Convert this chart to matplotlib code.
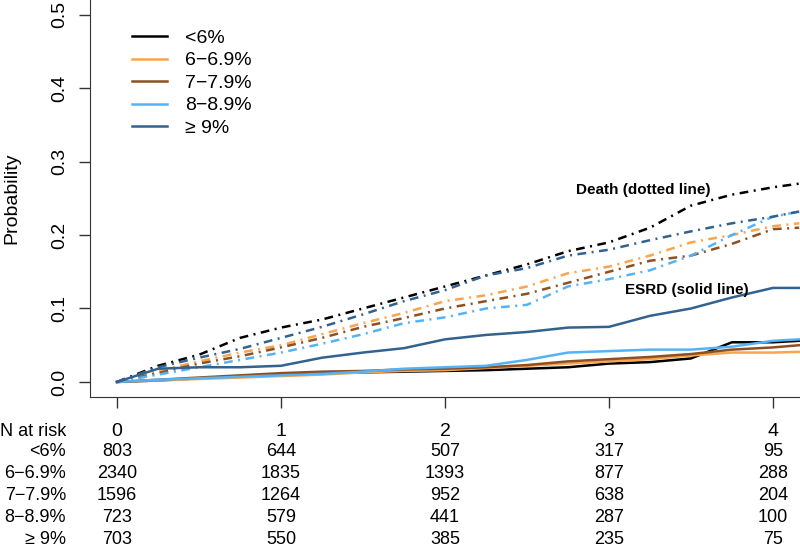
import matplotlib
matplotlib.use('Agg')
import matplotlib.pyplot as plt
from matplotlib.transforms import blended_transform_factory

plt.rcParams['font.family'] = ['Liberation Sans', 'DejaVu Sans']

# groups and colours
groups = ['<6%', '6\u22126.9%', '7\u22127.9%', '8\u22128.9%', '\u2265 9%']
colors = ['#000000', '#F9A54D', '#8E5020', '#54B3F7', '#33628E']

# time points (years) for the curves
t = [0, 0.25, 0.5, 0.75, 1.0, 1.25, 1.5, 1.75, 2.0, 2.25, 2.5, 2.75,
     3.0, 3.25, 3.5, 3.75, 4.0, 4.16]

# cumulative incidence of death (dash-dot)
death_lt6 = [0, 0.022, 0.037, 0.06, 0.074, 0.085, 0.1, 0.115, 0.13, 0.145,
             0.16, 0.178, 0.19, 0.21, 0.24, 0.255, 0.265, 0.27]
death_6 = [0, 0.015, 0.028, 0.04, 0.05, 0.065, 0.08, 0.094, 0.11, 0.118,
           0.13, 0.148, 0.157, 0.172, 0.19, 0.2, 0.212, 0.216]
death_7 = [0, 0.012, 0.025, 0.035, 0.047, 0.06, 0.075, 0.087, 0.1, 0.11,
           0.12, 0.135, 0.15, 0.165, 0.172, 0.188, 0.208, 0.21]
death_8 = [0, 0.01, 0.02, 0.03, 0.04, 0.052, 0.065, 0.08, 0.088, 0.1,
           0.105, 0.13, 0.14, 0.152, 0.172, 0.2, 0.225, 0.232]
death_9 = [0, 0.02, 0.033, 0.045, 0.06, 0.075, 0.092, 0.11, 0.125, 0.145,
           0.155, 0.172, 0.18, 0.193, 0.205, 0.216, 0.225, 0.232]

# cumulative incidence of ESRD (solid)
esrd_lt6 = [0, 0.002, 0.005, 0.008, 0.01, 0.012, 0.013, 0.014, 0.015, 0.016,
            0.018, 0.02, 0.025, 0.027, 0.032, 0.054, 0.054, 0.056]
esrd_6 = [0, 0.002, 0.004, 0.006, 0.008, 0.01, 0.013, 0.015, 0.016, 0.019,
          0.022, 0.025, 0.028, 0.031, 0.036, 0.04, 0.04, 0.041]
esrd_7 = [0, 0.003, 0.006, 0.009, 0.012, 0.014, 0.015, 0.017, 0.018, 0.02,
          0.023, 0.028, 0.031, 0.034, 0.038, 0.044, 0.047, 0.05]
esrd_8 = [0, 0.003, 0.005, 0.007, 0.009, 0.011, 0.014, 0.018, 0.02, 0.022,
          0.03, 0.04, 0.042, 0.044, 0.044, 0.048, 0.056, 0.058]
esrd_9 = [0, 0.018, 0.02, 0.02, 0.022, 0.033, 0.04, 0.046, 0.058, 0.064,
          0.068, 0.074, 0.075, 0.09, 0.1, 0.115, 0.128, 0.128]

death = [death_lt6, death_6, death_7, death_8, death_9]
esrd = [esrd_lt6, esrd_6, esrd_7, esrd_8, esrd_9]

# numbers at risk
risk_times = [0, 1, 2, 3, 4]
n_lt6 = [803, 644, 507, 317, 95]
n_6 = [2340, 1835, 1393, 877, 288]
n_7 = [1596, 1264, 952, 638, 204]
n_8 = [723, 579, 441, 287, 100]
n_9 = [703, 550, 385, 235, 75]
n_risk = [n_lt6, n_6, n_7, n_8, n_9]

fig = plt.figure(figsize=(8, 5.49), dpi=100)
ax = fig.add_axes([0.1125, 0.277, 0.8875, 0.723])

for i in range(len(groups)):
    ax.plot(t, death[i], color=colors[i], lw=1.8, dashes=(3.5, 2.2, 0.8, 2.2))
    ax.plot(t, esrd[i], color=colors[i], lw=1.8, label=groups[i])

ax.set_xlim(-0.165, 4.165)
ax.set_ylim(-0.0204, 0.52)
ax.spines['top'].set_visible(False)
ax.spines['right'].set_visible(False)
for s in ['left', 'bottom']:
    ax.spines[s].set_color('#333333')
ax.set_yticks([0, 0.1, 0.2, 0.3, 0.4, 0.5])
ax.set_yticklabels(['0.0', '0.1', '0.2', '0.3', '0.4', '0.5'],
                   rotation=90, va='center', fontsize=14)
ax.set_xticks(risk_times)
ax.set_xticklabels([])
ax.tick_params(axis='both', length=8, width=1, color='#333333')
ax.tick_params(axis='y', pad=8)
ax.set_ylabel('Probability', fontsize=14, labelpad=22)

ax.text(3.21, 0.261, 'Death (dotted line)', fontsize=11, fontweight='bold',
        ha='center', va='center')
ax.text(3.476, 0.125, 'ESRD (solid line)', fontsize=11, fontweight='bold',
        ha='center', va='center')

ax.legend(loc='upper left', bbox_to_anchor=(0.035, 0.97), frameon=False,
          fontsize=14, handlelength=1.8, handletextpad=0.9,
          labelspacing=0.25)

# risk table below the axes
tr = blended_transform_factory(ax.transData, fig.transFigure)
fig.text(66 / 800, 1 - 431 / 549, 'N at risk', fontsize=13,
         ha='right', va='center')
for x in risk_times:
    ax.text(x, 1 - 431 / 549, str(x), transform=tr, fontsize=14,
            ha='center', va='center')
row_y = [452, 474, 496, 518, 540]
for i in range(len(groups)):
    fig.text(66 / 800, 1 - row_y[i] / 549, groups[i], fontsize=13,
             ha='right', va='center')
    for j, x in enumerate(risk_times):
        ax.text(x, 1 - row_y[i] / 549, str(n_risk[i][j]), transform=tr,
                fontsize=13, ha='center', va='center')

fig.savefig('out.png', dpi=100)
